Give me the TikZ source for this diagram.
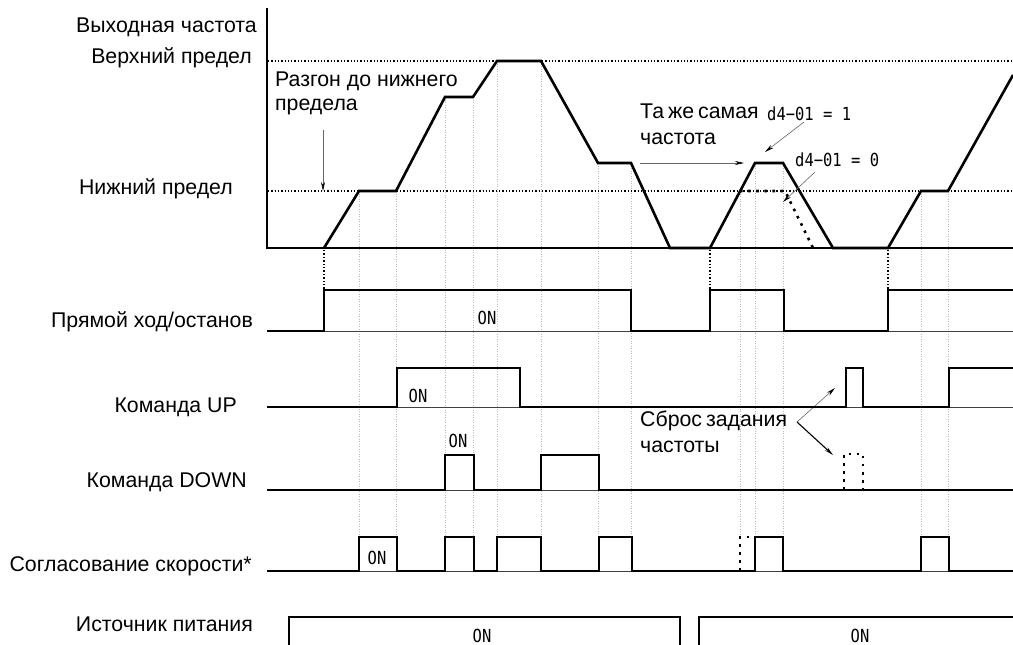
\documentclass[tikz,border=0pt]{standalone}
\usepackage{fontspec}
\setmainfont{Liberation Sans}
\newfontfamily\monof[FakeStretch=0.86]{DejaVu Sans Mono}
\usetikzlibrary{arrows.meta}
\begin{document}
\begin{tikzpicture}[x=1pt,y=-1pt,
  sig/.style={line width=2.6pt, line join=miter},
  axisline/.style={line width=2pt},
  baseline/.style={line width=0.9pt, black!75},
  guide/.style={line width=0.6pt, gray!55, dash pattern=on 1pt off 1.5pt},
  lim/.style={line width=1.3pt, dash pattern=on 1.3pt off 2pt},
  blkdot/.style={line width=1.4pt, dash pattern=on 1.4pt off 2pt},
  altdot/.style={line width=2.6pt, dash pattern=on 2.6pt off 5.5pt},
  lbl/.style={font=\fontsize{21.3}{24}\selectfont, inner sep=0pt},
  lbltwo/.style={font=\fontsize{21.3}{26}\selectfont, inner sep=0pt, anchor=north west, align=left},
  onl/.style={font=\monof\fontsize{18}{19}\selectfont, inner sep=0pt},
  thinarrow/.style={line width=0.6pt, black!60, -{Stealth[length=9pt,width=4pt,black]}},
  blkarrow/.style={line width=1.1pt, black, -{Stealth[length=9pt,width=4pt]}},
  ]
\fill[white] (0,0) rectangle (1013,645);
\useasboundingbox (0,0) rectangle (1013,645);

% guides
\foreach \x/\y in {359/191,396/191,445/97,473/97,497/61,541/61,598/163,631/163,740/191,755/163,783/163,921/191,948/191}
  \draw[guide] (\x,\y) -- (\x,537);
\foreach \x in {324,710,888}
  \draw[blkdot] (\x,250) -- (\x,290);

% axes and limits
\draw[lim] (268,61) -- (1013,61);
\draw[lim] (268,191) -- (1013,191);
\draw[axisline] (267,8) -- (267,248) -- (1013,248);

% output frequency waveform
\draw[sig] (324,248) -- (359,191) -- (396,191) -- (445,97) -- (473,97) -- (497,61) -- (541,61) -- (598,163) -- (631,163) -- (670,248) -- (710,248) -- (755,163) -- (783,163) -- (833,248) -- (888,248) -- (921,191) -- (948,191) -- (1013,75);
\draw[altdot] (740,191) -- (785,191) -- (813,248);

% labels left
\node[lbl, anchor=base east] (fout) at (257,32) {Выходная частота};
\node[lbl, anchor=base east] (fup) at (252,63) {Верхний предел};
\node[lbl, anchor=base east] (flow) at (233,194) {Нижний предел};
\node[lbl, anchor=base east] (run) at (253,327) {Прямой ход/останов};
\node[lbl, anchor=base east] (up) at (237,412) {Команда UP};
\node[lbl, anchor=base east] (down) at (247,487) {Команда DOWN};
\node[lbl, anchor=base east] (sa) at (252,571) {Согласование скорости*};
\node[lbl, anchor=base east] (ps) at (253,631) {Источник питания};

% annotations
\node[lbltwo, font=\fontsize{21.3}{24}\selectfont] (accel) at (275,72) {Разгон до нижнего\\предела};
\coordinate (accA) at (323,130);
\coordinate (accB) at (323,191);
\draw[thinarrow] (accA) -- (accB);

\node[lbltwo] (same) at (640,104) {{\spaceskip=4pt Та же самая}\\частота};
\coordinate (sameA) at (640,163);
\coordinate (sameB) at (744,163);
\draw[thinarrow] (sameA) -- (sameB);

\node[onl, anchor=west] (d1) at (767,114) {d4−01 = 1};
\coordinate (d1A) at (804,122);
\coordinate (d1B) at (765,152);
\draw[thinarrow] (d1A) -- (d1B);

\node[onl, anchor=west] (d0) at (795,160) {d4−01 = 0};
\coordinate (d0A) at (815,172);
\coordinate (d0B) at (783,202);
\draw[thinarrow] (d0A) -- (d0B);

\node[lbltwo] (reset) at (640,411) {{\spaceskip=4pt Сброс задания}\\частоты};
\coordinate (rsO) at (797,422);
\coordinate (rsU) at (835,388);
\coordinate (rsD) at (833,455);
\draw[thinarrow] (rsO) -- (rsU);
\draw[blkarrow] (rsO) -- (rsD);

% Run
\draw[baseline] (267,331) -- (1013,331);
\draw[sig] (267,331) -- (324,331) -- (324,290) -- (631,290) -- (631,331) -- (710,331) -- (710,290) -- (784,290) -- (784,331) -- (888,331) -- (888,290) -- (1013,290);
\node[onl] (runon) at (487,318) {ON};

% UP
\draw[baseline] (267,407) -- (1013,407);
\draw[sig] (267,407) -- (397,407) -- (397,368) -- (520,368) -- (520,407) -- (846,407) -- (846,368) -- (863,368) -- (863,407) -- (949,407) -- (949,368) -- (1013,368);
\node[onl] (upon) at (418,396) {ON};

% DOWN
\draw[baseline] (267,490) -- (1013,490);
\draw[sig] (267,490) -- (445,490) -- (445,455) -- (474,455) -- (474,490) -- (541,490) -- (541,455) -- (599,455) -- (599,490) -- (1013,490);
\draw[altdot] (844,490) -- (844,454) -- (863,454) -- (863,490);
\node[onl] (downon) at (458,441) {ON};

% Speed agreement
\draw[baseline] (267,571) -- (1013,571);
\draw[sig] (267,571) -- (359,571) -- (359,537) -- (397,537) -- (397,571) -- (445,571) -- (445,537) -- (474,537) -- (474,571) -- (497,571) -- (497,537) -- (541,537) -- (541,571) -- (599,571) -- (599,537) -- (632,537) -- (632,571) -- (755,571) -- (755,537) -- (783,537) -- (783,571) -- (921,571) -- (921,537) -- (949,537) -- (949,571) -- (1013,571);
\draw[altdot] (740,571) -- (740,537) -- (755,537);
\node[onl] (saon) at (377,558) {ON};

% Power supply
\draw[sig] (289,646) -- (289,617) -- (680,617) -- (680,646);
\draw[sig] (699,646) -- (699,617) -- (1014,617);
\node[onl] (pson1) at (482,636) {ON};
\node[onl] (pson2) at (860,636) {ON};
\end{tikzpicture}
\end{document}
